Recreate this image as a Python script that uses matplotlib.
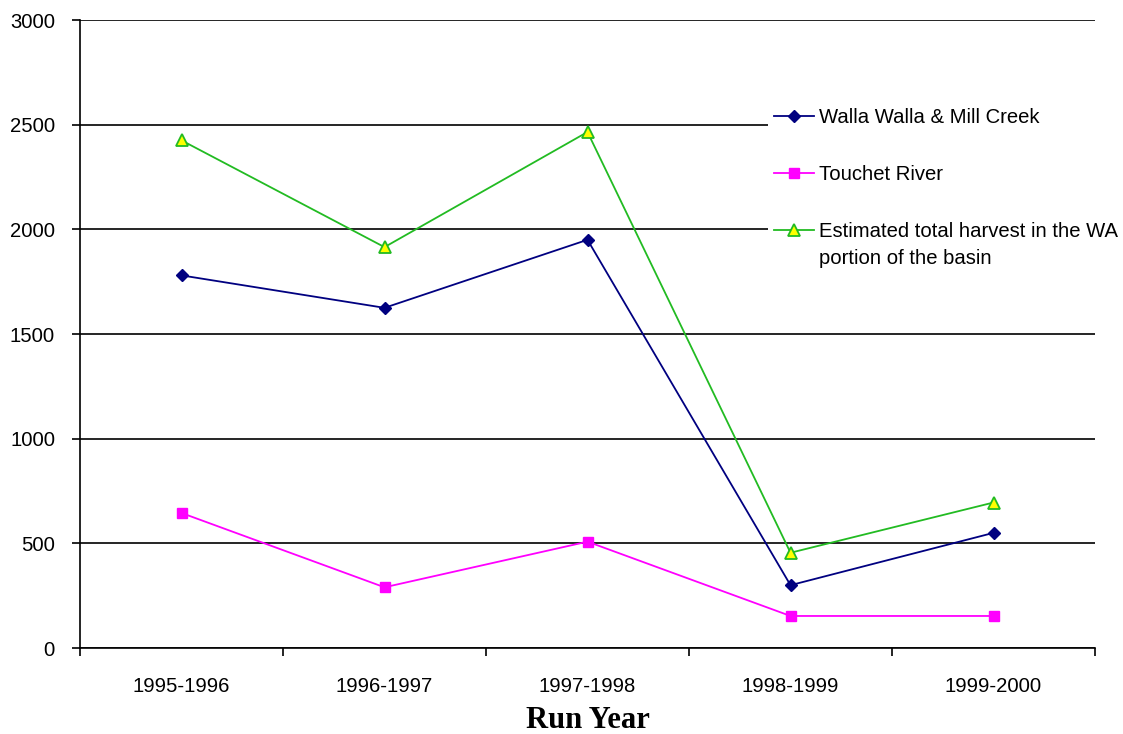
import matplotlib
matplotlib.use("Agg")
import matplotlib.pyplot as plt
from matplotlib.ticker import FixedLocator

plt.rcParams['font.family'] = ['Liberation Sans', 'DejaVu Sans']

run_years = ["1995-1996", "1996-1997", "1997-1998", "1998-1999", "1999-2000"]
walla_walla_mill_creek = [1780, 1625, 1950, 300, 550]
touchet_river = [645, 290, 508, 153, 153]
estimated_total_wa = [2425, 1915, 2465, 455, 695]

y_ticks = [0, 500, 1000, 1500, 2000, 2500, 3000]

fig = plt.figure(figsize=(11.23, 7.34), dpi=100)
ax = fig.add_axes([80 / 1123, 1 - 648 / 734, (1095 - 80) / 1123, (648 - 20) / 734])

x = list(range(len(run_years)))

ax.plot(x, walla_walla_mill_creek, color='#000080', lw=1.3, marker='D', ms=5.8,
        mfc='#000080', mec='#000080', label='Walla Walla & Mill Creek', zorder=4)
ax.plot(x, touchet_river, color='#FF00FF', lw=1.3, marker='s', ms=7.5,
        mfc='#FF00FF', mec='#FF00FF', label='Touchet River', zorder=4)
ax.plot(x, estimated_total_wa, color='#22BB22', lw=1.3, marker='^', ms=8.5,
        mfc='#FFFF00', mec='#22BB22', mew=1.3,
        label='Estimated total harvest in the WA', zorder=5)

ax.set_xlim(-0.5, len(run_years) - 0.5)
ax.set_ylim(0, 3000)

# horizontal gridlines
ax.set_yticks(y_ticks)
ax.yaxis.grid(True, color='black', lw=1.2)
ax.set_axisbelow(True)

ax.set_xticks(x)
ax.set_xticklabels(run_years)
ax.xaxis.set_minor_locator(FixedLocator([i - 0.5 for i in range(len(run_years) + 1)]))
ax.tick_params(axis='x', which='major', length=0, pad=21, labelsize=14.6)
ax.tick_params(axis='x', which='minor', length=6, width=1.2, direction='out')
ax.tick_params(axis='y', length=6, width=1.2, direction='out', pad=12, labelsize=14.6)

for side in ('top', 'right'):
    ax.spines[side].set_visible(False)
for side in ('left', 'bottom'):
    ax.spines[side].set_linewidth(1.2)

ax.set_xlabel('Run Year', family=['Liberation Serif'], fontweight='bold',
              fontsize=22, labelpad=7)

leg = ax.legend(loc='upper left', bbox_to_anchor=(768 / 1123, 1 - 102 / 734),
                bbox_transform=fig.transFigure, frameon=True, fancybox=False,
                edgecolor='none', facecolor='white', framealpha=1,
                fontsize=14.6, handlelength=1.95, handletextpad=0.25,
                labelspacing=1.88, borderpad=0.3, borderaxespad=0)
leg.set_zorder(6)
ax.annotate('portion of the basin', xy=(0, 0), xycoords=leg.get_texts()[2],
            xytext=(0, -5.5), textcoords='offset points', va='top', ha='left',
            fontsize=14.6, zorder=7, annotation_clip=False)

fig.savefig('out.png', dpi=100)
